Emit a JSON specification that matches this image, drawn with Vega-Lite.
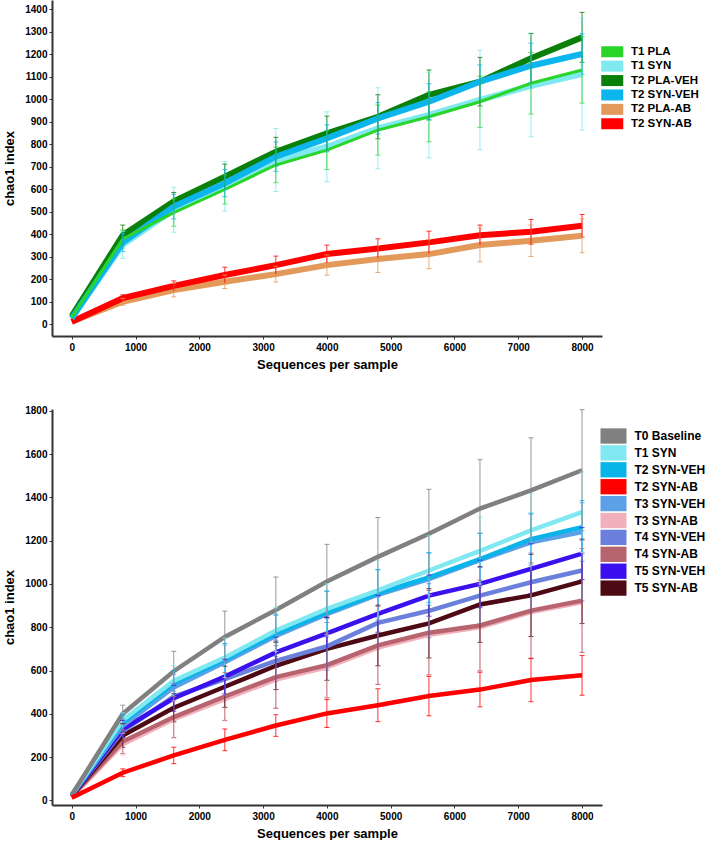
{
  "$schema": "https://vega.github.io/schema/vega-lite/v6.json",
  "padding": {"left": 3, "top": 0, "right": 0, "bottom": 0},
  "background": "white",
  "config": {
    "font": "Liberation Sans",
    "view": {"stroke": null},
    "concat": {"spacing": 34},
    "axis": {"grid": false, "domainColor": "#333333", "domainWidth": 2, "tickColor": "#333333", "tickSize": 3, "tickWidth": 1, "format": "d",
      "labelFont": "Liberation Sans", "labelFontWeight": "bold", "labelFontSize": 10, "labelColor": "#000000",
      "titleFont": "Liberation Sans", "titleFontSize": 13, "titleFontWeight": "bold", "titleColor": "#000000"},
    "axisX": {"labelPadding": 3, "titlePadding": 6},
    "axisY": {"labelPadding": 2, "titlePadding": 8},
    "legend": {"title": null, "padding": 0, "symbolStrokeWidth": 0, "symbolOpacity": 1, "labelFont": "Liberation Sans", "labelFontWeight": "bold", "labelColor": "#000000", "labelLimit": 200}
  },
  "datasets": {
    "top": [
      {"s":"T2 PLA-AB","x":0,"y":10},
      {"s":"T2 PLA-AB","x":800,"y":99,"lo":84,"hi":114},
      {"s":"T2 PLA-AB","x":1600,"y":151,"lo":121,"hi":181},
      {"s":"T2 PLA-AB","x":2400,"y":188,"lo":158,"hi":218},
      {"s":"T2 PLA-AB","x":3200,"y":222,"lo":187,"hi":257},
      {"s":"T2 PLA-AB","x":4000,"y":262,"lo":217,"hi":307},
      {"s":"T2 PLA-AB","x":4800,"y":289,"lo":229,"hi":349},
      {"s":"T2 PLA-AB","x":5600,"y":311,"lo":246,"hi":376},
      {"s":"T2 PLA-AB","x":6400,"y":351,"lo":276,"hi":426},
      {"s":"T2 PLA-AB","x":7200,"y":370,"lo":300,"hi":440},
      {"s":"T2 PLA-AB","x":8000,"y":392,"lo":317,"hi":467},
      {"s":"T2 SYN-AB","x":0,"y":10},
      {"s":"T2 SYN-AB","x":800,"y":115,"lo":100,"hi":130},
      {"s":"T2 SYN-AB","x":1600,"y":170,"lo":148,"hi":192},
      {"s":"T2 SYN-AB","x":2400,"y":218,"lo":183,"hi":253},
      {"s":"T2 SYN-AB","x":3200,"y":262,"lo":222,"hi":302},
      {"s":"T2 SYN-AB","x":4000,"y":311,"lo":271,"hi":351},
      {"s":"T2 SYN-AB","x":4800,"y":336,"lo":293,"hi":379},
      {"s":"T2 SYN-AB","x":5600,"y":363,"lo":313,"hi":413},
      {"s":"T2 SYN-AB","x":6400,"y":395,"lo":350,"hi":440},
      {"s":"T2 SYN-AB","x":7200,"y":410,"lo":355,"hi":465},
      {"s":"T2 SYN-AB","x":8000,"y":437,"lo":387,"hi":487},
      {"s":"T1 SYN","x":0,"y":28},
      {"s":"T1 SYN","x":800,"y":352,"lo":292,"hi":412},
      {"s":"T1 SYN","x":1600,"y":508,"lo":408,"hi":608},
      {"s":"T1 SYN","x":2400,"y":612,"lo":502,"hi":722},
      {"s":"T1 SYN","x":3200,"y":729,"lo":589,"hi":869},
      {"s":"T1 SYN","x":4000,"y":788,"lo":633,"hi":943},
      {"s":"T1 SYN","x":4800,"y":870,"lo":690,"hi":1050},
      {"s":"T1 SYN","x":5600,"y":929,"lo":739,"hi":1119},
      {"s":"T1 SYN","x":6400,"y":996,"lo":776,"hi":1216},
      {"s":"T1 SYN","x":7200,"y":1059,"lo":832,"hi":1286},
      {"s":"T1 SYN","x":8000,"y":1111,"lo":862,"hi":1360},
      {"s":"T1 PLA","x":0,"y":30},
      {"s":"T1 PLA","x":800,"y":378,"lo":338,"hi":418},
      {"s":"T1 PLA","x":1600,"y":495,"lo":435,"hi":555},
      {"s":"T1 PLA","x":2400,"y":598,"lo":533,"hi":663},
      {"s":"T1 PLA","x":3200,"y":707,"lo":628,"hi":786},
      {"s":"T1 PLA","x":4000,"y":773,"lo":687,"hi":859},
      {"s":"T1 PLA","x":4800,"y":862,"lo":751,"hi":973},
      {"s":"T1 PLA","x":5600,"y":921,"lo":810,"hi":1032},
      {"s":"T1 PLA","x":6400,"y":988,"lo":874,"hi":1102},
      {"s":"T1 PLA","x":7200,"y":1070,"lo":933,"hi":1207},
      {"s":"T1 PLA","x":8000,"y":1129,"lo":982,"hi":1276},
      {"s":"T2 PLA-VEH","x":0,"y":35},
      {"s":"T2 PLA-VEH","x":800,"y":395,"lo":350,"hi":440},
      {"s":"T2 PLA-VEH","x":1600,"y":545,"lo":505,"hi":585},
      {"s":"T2 PLA-VEH","x":2400,"y":655,"lo":599,"hi":711},
      {"s":"T2 PLA-VEH","x":3200,"y":766,"lo":702,"hi":830},
      {"s":"T2 PLA-VEH","x":4000,"y":847,"lo":770,"hi":924},
      {"s":"T2 PLA-VEH","x":4800,"y":921,"lo":823,"hi":1019},
      {"s":"T2 PLA-VEH","x":5600,"y":1018,"lo":907,"hi":1129},
      {"s":"T2 PLA-VEH","x":6400,"y":1077,"lo":969,"hi":1185},
      {"s":"T2 PLA-VEH","x":7200,"y":1181,"lo":1070,"hi":1292},
      {"s":"T2 PLA-VEH","x":8000,"y":1274,"lo":1163,"hi":1385},
      {"s":"T2 SYN-VEH","x":0,"y":25},
      {"s":"T2 SYN-VEH","x":800,"y":362,"lo":322,"hi":402},
      {"s":"T2 SYN-VEH","x":1600,"y":522,"lo":467,"hi":577},
      {"s":"T2 SYN-VEH","x":2400,"y":626,"lo":566,"hi":686},
      {"s":"T2 SYN-VEH","x":3200,"y":744,"lo":679,"hi":809},
      {"s":"T2 SYN-VEH","x":4000,"y":825,"lo":765,"hi":885},
      {"s":"T2 SYN-VEH","x":4800,"y":914,"lo":844,"hi":984},
      {"s":"T2 SYN-VEH","x":5600,"y":988,"lo":908,"hi":1068},
      {"s":"T2 SYN-VEH","x":6400,"y":1077,"lo":1003,"hi":1151},
      {"s":"T2 SYN-VEH","x":7200,"y":1148,"lo":1048,"hi":1248},
      {"s":"T2 SYN-VEH","x":8000,"y":1200,"lo":1110,"hi":1290}
    ],
    "bottom": [
      {"s":"T3 SYN-AB","x":0,"y":15},
      {"s":"T3 SYN-AB","x":800,"y":260,"lo":210,"hi":310},
      {"s":"T3 SYN-AB","x":1600,"y":375,"lo":290,"hi":460},
      {"s":"T3 SYN-AB","x":2400,"y":468,"lo":368,"hi":568},
      {"s":"T3 SYN-AB","x":3200,"y":558,"lo":428,"hi":688},
      {"s":"T3 SYN-AB","x":4000,"y":615,"lo":465,"hi":765},
      {"s":"T3 SYN-AB","x":4800,"y":706,"lo":536,"hi":876},
      {"s":"T3 SYN-AB","x":5600,"y":765,"lo":580,"hi":950},
      {"s":"T3 SYN-AB","x":6400,"y":800,"lo":600,"hi":1000},
      {"s":"T3 SYN-AB","x":7200,"y":870,"lo":655,"hi":1085},
      {"s":"T3 SYN-AB","x":8000,"y":915,"lo":685,"hi":1145},
      {"s":"T4 SYN-AB","x":0,"y":18},
      {"s":"T4 SYN-AB","x":800,"y":272,"lo":217,"hi":327},
      {"s":"T4 SYN-AB","x":1600,"y":385,"lo":290,"hi":480},
      {"s":"T4 SYN-AB","x":2400,"y":480,"lo":370,"hi":590},
      {"s":"T4 SYN-AB","x":3200,"y":570,"lo":425,"hi":715},
      {"s":"T4 SYN-AB","x":4000,"y":625,"lo":475,"hi":775},
      {"s":"T4 SYN-AB","x":4800,"y":716,"lo":536,"hi":896},
      {"s":"T4 SYN-AB","x":5600,"y":775,"lo":580,"hi":970},
      {"s":"T4 SYN-AB","x":6400,"y":808,"lo":598,"hi":1018},
      {"s":"T4 SYN-AB","x":7200,"y":877,"lo":657,"hi":1097},
      {"s":"T4 SYN-AB","x":8000,"y":923,"lo":683,"hi":1163},
      {"s":"T5 SYN-AB","x":0,"y":20},
      {"s":"T5 SYN-AB","x":800,"y":300,"lo":245,"hi":355},
      {"s":"T5 SYN-AB","x":1600,"y":428,"lo":363,"hi":493},
      {"s":"T5 SYN-AB","x":2400,"y":525,"lo":430,"hi":620},
      {"s":"T5 SYN-AB","x":3200,"y":622,"lo":512,"hi":732},
      {"s":"T5 SYN-AB","x":4000,"y":700,"lo":555,"hi":845},
      {"s":"T5 SYN-AB","x":4800,"y":762,"lo":622,"hi":902},
      {"s":"T5 SYN-AB","x":5600,"y":818,"lo":658,"hi":978},
      {"s":"T5 SYN-AB","x":6400,"y":905,"lo":730,"hi":1080},
      {"s":"T5 SYN-AB","x":7200,"y":947,"lo":757,"hi":1137},
      {"s":"T5 SYN-AB","x":8000,"y":1012,"lo":817,"hi":1207},
      {"s":"T4 SYN-VEH","x":0,"y":22},
      {"s":"T4 SYN-VEH","x":800,"y":320,"lo":290,"hi":350},
      {"s":"T4 SYN-VEH","x":1600,"y":480,"lo":420,"hi":540},
      {"s":"T4 SYN-VEH","x":2400,"y":560,"lo":480,"hi":640},
      {"s":"T4 SYN-VEH","x":3200,"y":645,"lo":550,"hi":740},
      {"s":"T4 SYN-VEH","x":4000,"y":712,"lo":602,"hi":822},
      {"s":"T4 SYN-VEH","x":4800,"y":820,"lo":700,"hi":940},
      {"s":"T4 SYN-VEH","x":5600,"y":876,"lo":751,"hi":1001},
      {"s":"T4 SYN-VEH","x":6400,"y":946,"lo":816,"hi":1076},
      {"s":"T4 SYN-VEH","x":7200,"y":1008,"lo":873,"hi":1143},
      {"s":"T4 SYN-VEH","x":8000,"y":1062,"lo":922,"hi":1202},
      {"s":"T5 SYN-VEH","x":0,"y":22},
      {"s":"T5 SYN-VEH","x":800,"y":330,"lo":290,"hi":370},
      {"s":"T5 SYN-VEH","x":1600,"y":472,"lo":412,"hi":532},
      {"s":"T5 SYN-VEH","x":2400,"y":572,"lo":492,"hi":652},
      {"s":"T5 SYN-VEH","x":3200,"y":684,"lo":614,"hi":754},
      {"s":"T5 SYN-VEH","x":4000,"y":772,"lo":697,"hi":847},
      {"s":"T5 SYN-VEH","x":4800,"y":862,"lo":777,"hi":947},
      {"s":"T5 SYN-VEH","x":5600,"y":946,"lo":851,"hi":1041},
      {"s":"T5 SYN-VEH","x":6400,"y":1000,"lo":890,"hi":1110},
      {"s":"T5 SYN-VEH","x":7200,"y":1070,"lo":955,"hi":1185},
      {"s":"T5 SYN-VEH","x":8000,"y":1140,"lo":1020,"hi":1260},
      {"s":"T3 SYN-VEH","x":0,"y":25},
      {"s":"T3 SYN-VEH","x":800,"y":345,"lo":315,"hi":375},
      {"s":"T3 SYN-VEH","x":1600,"y":522,"lo":462,"hi":582},
      {"s":"T3 SYN-VEH","x":2400,"y":638,"lo":558,"hi":718},
      {"s":"T3 SYN-VEH","x":3200,"y":760,"lo":665,"hi":855},
      {"s":"T3 SYN-VEH","x":4000,"y":860,"lo":755,"hi":965},
      {"s":"T3 SYN-VEH","x":4800,"y":950,"lo":835,"hi":1065},
      {"s":"T3 SYN-VEH","x":5600,"y":1022,"lo":902,"hi":1142},
      {"s":"T3 SYN-VEH","x":6400,"y":1110,"lo":985,"hi":1235},
      {"s":"T3 SYN-VEH","x":7200,"y":1192,"lo":1062,"hi":1322},
      {"s":"T3 SYN-VEH","x":8000,"y":1240,"lo":1105,"hi":1375},
      {"s":"T2 SYN-VEH","x":0,"y":25},
      {"s":"T2 SYN-VEH","x":800,"y":360,"lo":325,"hi":395},
      {"s":"T2 SYN-VEH","x":1600,"y":540,"lo":480,"hi":600},
      {"s":"T2 SYN-VEH","x":2400,"y":650,"lo":575,"hi":725},
      {"s":"T2 SYN-VEH","x":3200,"y":770,"lo":680,"hi":860},
      {"s":"T2 SYN-VEH","x":4000,"y":868,"lo":768,"hi":968},
      {"s":"T2 SYN-VEH","x":4800,"y":957,"lo":847,"hi":1067},
      {"s":"T2 SYN-VEH","x":5600,"y":1030,"lo":915,"hi":1145},
      {"s":"T2 SYN-VEH","x":6400,"y":1115,"lo":997,"hi":1233},
      {"s":"T2 SYN-VEH","x":7200,"y":1207,"lo":1087,"hi":1327},
      {"s":"T2 SYN-VEH","x":8000,"y":1262,"lo":1139,"hi":1385},
      {"s":"T1 SYN","x":0,"y":25},
      {"s":"T1 SYN","x":800,"y":370,"lo":335,"hi":405},
      {"s":"T1 SYN","x":1600,"y":553,"lo":483,"hi":623},
      {"s":"T1 SYN","x":2400,"y":660,"lo":570,"hi":750},
      {"s":"T1 SYN","x":3200,"y":785,"lo":680,"hi":890},
      {"s":"T1 SYN","x":4000,"y":885,"lo":770,"hi":1000},
      {"s":"T1 SYN","x":4800,"y":970,"lo":830,"hi":1110},
      {"s":"T1 SYN","x":5600,"y":1062,"lo":902,"hi":1222},
      {"s":"T1 SYN","x":6400,"y":1153,"lo":996,"hi":1310},
      {"s":"T1 SYN","x":7200,"y":1247,"lo":1077,"hi":1417},
      {"s":"T1 SYN","x":8000,"y":1332,"lo":1147,"hi":1517},
      {"s":"T0 Baseline","x":0,"y":25},
      {"s":"T0 Baseline","x":800,"y":400,"lo":360,"hi":440},
      {"s":"T0 Baseline","x":1600,"y":597,"lo":505,"hi":689},
      {"s":"T0 Baseline","x":2400,"y":755,"lo":635,"hi":875},
      {"s":"T0 Baseline","x":3200,"y":880,"lo":728,"hi":1032},
      {"s":"T0 Baseline","x":4000,"y":1011,"lo":839,"hi":1183},
      {"s":"T0 Baseline","x":4800,"y":1125,"lo":943,"hi":1307},
      {"s":"T0 Baseline","x":5600,"y":1232,"lo":1027,"hi":1437},
      {"s":"T0 Baseline","x":6400,"y":1348,"lo":1122,"hi":1574},
      {"s":"T0 Baseline","x":7200,"y":1432,"lo":1189,"hi":1675},
      {"s":"T0 Baseline","x":8000,"y":1525,"lo":1245,"hi":1805},
      {"s":"T2 SYN-AB","x":0,"y":12},
      {"s":"T2 SYN-AB","x":800,"y":128,"lo":110,"hi":146},
      {"s":"T2 SYN-AB","x":1600,"y":208,"lo":170,"hi":246},
      {"s":"T2 SYN-AB","x":2400,"y":280,"lo":230,"hi":330},
      {"s":"T2 SYN-AB","x":3200,"y":346,"lo":296,"hi":396},
      {"s":"T2 SYN-AB","x":4000,"y":402,"lo":337,"hi":467},
      {"s":"T2 SYN-AB","x":4800,"y":440,"lo":364,"hi":516},
      {"s":"T2 SYN-AB","x":5600,"y":482,"lo":391,"hi":573},
      {"s":"T2 SYN-AB","x":6400,"y":512,"lo":432,"hi":592},
      {"s":"T2 SYN-AB","x":7200,"y":556,"lo":456,"hi":656},
      {"s":"T2 SYN-AB","x":8000,"y":578,"lo":486,"hi":670}
    ]
  },
  "vconcat": [
    {
      "width": 550, "height": 336,
      "data": {"name": "top"},
      "encoding": {
        "x": {"field": "x", "type": "quantitative", "title": "Sequences per sample",
          "scale": {"domain": [-309, 8313], "nice": false, "zero": false},
          "axis": {"values": [0,1000,2000,3000,4000,5000,6000,7000,8000]}},
        "y": {"field": "y", "type": "quantitative", "title": "chao1 index",
          "scale": {"domain": [-53, 1440], "nice": false, "zero": false},
          "axis": {"values": [0,100,200,300,400,500,600,700,800,900,1000,1100,1200,1300,1400]}},
        "color": {"field": "s", "type": "nominal", "legend": null,
          "scale": {"domain": ["T1 PLA","T1 SYN","T2 PLA-VEH","T2 SYN-VEH","T2 PLA-AB","T2 SYN-AB"],
                    "range": ["#2ad52a","#80e8ef","#0a800a","#0db5ed","#e2995a","#ff0000"]}}
      },
      "layer": [
        {"mark": {"type": "tick", "orient": "horizontal", "size": 5, "thickness": 1, "opacity": 0.8},
         "encoding": {"y": {"field": "lo", "type": "quantitative", "title": "chao1 index"},
           "color": {"field": "s", "type": "nominal",
             "legend": {"orient": "none", "legendX": 549, "legendY": 46, "symbolType": "M-2,-1H2V1H-2Z", "symbolSize": 121,
               "symbolOffset": 5.5, "labelOffset": 13, "labelFontSize": 11.5, "rowPadding": 1.4}}}},
        {"mark": {"type": "line", "strokeWidth": 6},
         "transform": [{"filter": "datum.s !== 'T1 PLA'"}]},
        {"mark": {"type": "line", "strokeWidth": 3},
         "transform": [{"filter": "datum.s === 'T1 PLA'"}]},
        {"mark": {"type": "rule", "strokeWidth": 1, "opacity": 0.8},
         "encoding": {"y": {"field": "lo", "type": "quantitative", "title": "chao1 index"}, "y2": {"field": "hi"}}},
        {"mark": {"type": "tick", "orient": "horizontal", "size": 5, "thickness": 1, "opacity": 0.8},
         "encoding": {"y": {"field": "hi", "type": "quantitative", "title": "chao1 index"}}}
      ]
    },
    {
      "width": 550, "height": 396,
      "data": {"name": "bottom"},
      "encoding": {
        "x": {"field": "x", "type": "quantitative", "title": "Sequences per sample",
          "scale": {"domain": [-309, 8313], "nice": false, "zero": false},
          "axis": {"values": [0,1000,2000,3000,4000,5000,6000,7000,8000]}},
        "y": {"field": "y", "type": "quantitative", "title": "chao1 index",
          "scale": {"domain": [-21, 1808], "nice": false, "zero": false},
          "axis": {"values": [0,200,400,600,800,1000,1200,1400,1600,1800]}},
        "color": {"field": "s", "type": "nominal", "legend": null,
          "scale": {"domain": ["T0 Baseline","T1 SYN","T2 SYN-VEH","T2 SYN-AB","T3 SYN-VEH","T3 SYN-AB","T4 SYN-VEH","T4 SYN-AB","T5 SYN-VEH","T5 SYN-AB"],
                    "range": ["#808080","#80e8f0","#08b4e8","#ff0000","#5ca0e8","#f2b0bc","#6a80dc","#b8646e","#3a10ee","#4e0a14"]}}
      },
      "layer": [
        {"mark": {"type": "tick", "orient": "horizontal", "size": 5, "thickness": 1, "opacity": 0.8},
         "encoding": {"y": {"field": "lo", "type": "quantitative", "title": "chao1 index"},
           "color": {"field": "s", "type": "nominal",
             "legend": {"orient": "none", "legendX": 548.5, "legendY": 19, "symbolType": "M-1.7,-1H1.7V1H-1.7Z", "symbolSize": 234,
               "symbolOffset": 5, "labelOffset": 13, "labelFontSize": 12, "rowPadding": 0.9}}}},
        {"mark": {"type": "line", "strokeWidth": 4.5}},
        {"mark": {"type": "rule", "strokeWidth": 1, "opacity": 0.8},
         "encoding": {"y": {"field": "lo", "type": "quantitative", "title": "chao1 index"}, "y2": {"field": "hi"}}},
        {"mark": {"type": "tick", "orient": "horizontal", "size": 5, "thickness": 1, "opacity": 0.8},
         "encoding": {"y": {"field": "hi", "type": "quantitative", "title": "chao1 index"}}}
      ]
    }
  ],
  "resolve": {"scale": {"color": "independent"}, "legend": {"color": "independent"}}
}
